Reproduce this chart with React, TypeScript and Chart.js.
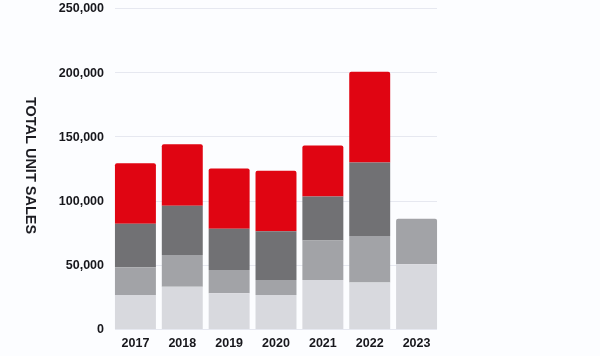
import React, { useEffect, useRef } from "react";
import { Chart, registerables } from "chart.js";

Chart.register(...registerables);

const years = ["2017", "2018", "2019", "2020", "2021", "2022", "2023"];
const lightValues = [26500, 33000, 27800, 26500, 38200, 36200, 50400];
const midValues = [21600, 24700, 18200, 11700, 30700, 36300, 35400];
const darkValues = [33800, 38200, 32000, 38000, 34300, 57200, null];
const redValues = [47100, 47900, 47000, 47000, 39800, 70600, null];
const yAxisTitle = "TOTAL UNIT SALES";

const font = { family: "'Liberation Sans', Arial, sans-serif", size: 12.5, weight: "bold" as const };

const verticalTitle = {
  id: "verticalTitle",
  afterDraw(chart: any) {
    const { ctx } = chart;
    ctx.save();
    ctx.translate(30, 165.5);
    ctx.rotate(Math.PI / 2);
    ctx.textAlign = "center";
    ctx.textBaseline = "middle";
    ctx.fillStyle = "#1c1c22";
    ctx.font = "bold 14.5px 'Liberation Sans', Arial, sans-serif";
    ctx.fillText(chart.options.scales.y.title.text, 0, 0);
    ctx.restore();
  },
};

const background = {
  id: "pageBackground",
  beforeDraw(chart: any) {
    const { ctx, width, height } = chart;
    ctx.save();
    ctx.fillStyle = "#fcfdff";
    ctx.fillRect(0, 0, width, height);
    ctx.restore();
  },
};

// Gridlines stop flush with the outer bar edges, inside the category band.
const insetGrid = {
  id: "insetGrid",
  beforeDatasetsDraw(chart: any) {
    const { ctx, chartArea, scales } = chart;
    ctx.save();
    ctx.strokeStyle = "#e6e8f0";
    ctx.lineWidth = 1;
    scales.y.ticks.forEach((t: any) => {
      const y = Math.round(scales.y.getPixelForValue(t.value)) + 0.5;
      ctx.beginPath();
      ctx.moveTo(chartArea.left + 3, y);
      ctx.lineTo(chartArea.right - 3, y);
      ctx.stroke();
    });
    ctx.restore();
  },
};

export default function App() {
  const ref = useRef<HTMLCanvasElement>(null);

  useEffect(() => {
    document.body.style.margin = "0";
    const shared = { barPercentage: 0.874, categoryPercentage: 1, borderWidth: 0 };
    const chart = new Chart(ref.current!, {
      type: "bar",
      data: {
        labels: years,
        datasets: [
          { label: "Light", data: lightValues, backgroundColor: "#d8d9de", ...shared },
          {
            label: "Mid",
            data: midValues,
            backgroundColor: "#a2a3a7",
            borderRadius: (c: any) => (c.dataIndex === 6 ? { topLeft: 2, topRight: 2, bottomLeft: 0, bottomRight: 0 } : 0),
            borderSkipped: false,
            ...shared,
          },
          { label: "Dark", data: darkValues, backgroundColor: "#717174", ...shared },
          {
            label: "Red",
            data: redValues,
            backgroundColor: "#e00512",
            borderRadius: { topLeft: 2, topRight: 2, bottomLeft: 0, bottomRight: 0 },
            borderSkipped: false,
            ...shared,
          },
        ] as any,
      },
      options: {
        responsive: false,
        animation: false,
        layout: { padding: { left: 0, right: 160, top: 8, bottom: 0 } },
        plugins: { legend: { display: false }, tooltip: { enabled: false } },
        scales: {
          x: {
            stacked: true,
            afterFit(scale: any) {
              scale.height = 27;
            },
            grid: { display: false, drawTicks: false },
            border: { display: false },
            ticks: { color: "#17171c", font, padding: 7, maxRotation: 0 },
          },
          y: {
            stacked: true,
            min: 0,
            max: 250000,
            afterFit(scale: any) {
              scale.width = 112;
              scale.paddingTop = 0;
              scale.paddingBottom = 0;
            },
            title: { display: false, text: yAxisTitle },
            grid: { display: false, drawTicks: false },
            border: { display: false },
            ticks: {
              stepSize: 50000,
              color: "#17171c",
              font,
              padding: 8,
              labelOffset: 1,
              callback: (v: any) => Number(v).toLocaleString("en-US"),
            },
          },
        },
      } as any,
      plugins: [background, insetGrid, verticalTitle],
    });
    return () => chart.destroy();
  }, []);

  return <canvas ref={ref} width={600} height={356} style={{ display: "block" }} />;
}
